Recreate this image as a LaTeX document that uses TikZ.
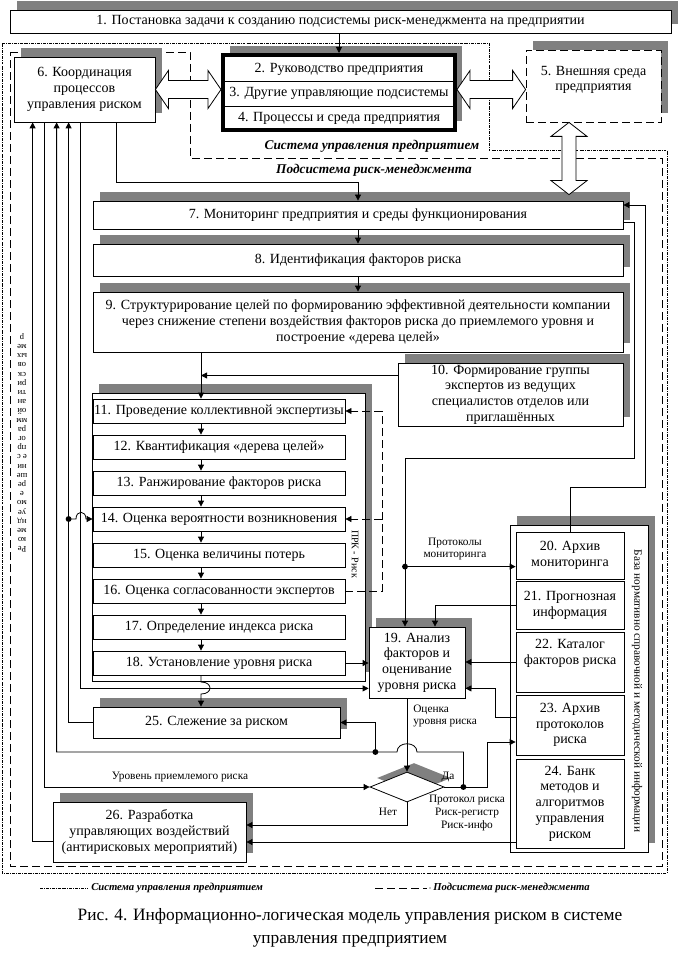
\documentclass[tikz,border=0pt]{standalone}
\usepackage{fontspec}
\setmainfont{Liberation Serif}
\usetikzlibrary{positioning, arrows.meta, shapes.geometric, shadows, calc}
\definecolor{shadowgray}{RGB}{128,128,128}
% hollow double arrow between two tips on one row
\newcommand{\harrow}[2]{\draw[hollow] (#1) -- ++(13,-19) -- ++(0,10) -- ($(#2)+(-13,-9)$) -- ++(0,-10) -- (#2) -- ++(-13,19) -- ++(0,-10) -- ($(#1)+(13,9)$) -- ++(0,10) -- cycle;}

\begin{document}
\begin{tikzpicture}[x=0.75pt, y=-0.75pt, font=\fontsize{10.5}{11.8}\selectfont,
    blk/.style={draw, fill=white, line width=0.6pt, align=center, inner sep=1pt},
    sz/.style 2 args={minimum width=#1*0.75pt, minimum height=#2*0.75pt},
    shd/.style={drop shadow={shadow xshift=5.25pt, shadow yshift=6.75pt, opacity=1, fill=shadowgray}},
    arr/.style={line width=0.6pt, -{Triangle[length=4.5pt, width=4.5pt]}},
    hollow/.style={draw, fill=white, line width=0.6pt},
    sysln/.style={line width=0.6pt, dash pattern=on 2.2pt off 0.8pt on 0.6pt off 0.8pt},
    subln/.style={line width=0.6pt, dash pattern=on 6pt off 3pt},
    lbl/.style={font=\fontsize{8.5}{9.5}\selectfont, align=center, inner sep=0pt},
    ttl/.style={font=\fontsize{10}{12}\selectfont\bfseries\itshape, inner sep=0pt}]
    \useasboundingbox (0,0) rectangle (679,966);

    % system and subsystem borders
    \draw[sysln] (2,43) -- (489,43) -- (489,150) -- (667,150) -- (667,873) -- (2,873) -- cycle;
    \draw[subln] (10,52) -- (190,52) -- (190,158) -- (662,158) -- (662,866) -- (10,866) -- cycle;

    % containers
    \node[blk, shd, sz={273}{288}] (cnt) at (228.5,537) {};
    \node[blk, shd, sz={138}{327}] (rc) at (579,688.5) {};

    % blocks
    \node[blk, shd, sz={661}{23}] (b1) at (340.5,21.5) {1. Постановка задачи к созданию подсистемы риск-менеджмента на предприятии};
    \node[blk, shd, sz={141}{65}] (b6) at (84.5,89.5) {6. Координация\\процессов\\управления риском};
    \node[blk, shd, sz={232}{75}, line width=3pt] (grp) at (339,92.5) {};
    \draw[line width=0.6pt] (grp.west |- 0,81) -- (grp.east |- 0,81);
    \draw[line width=0.6pt] (grp.west |- 0,106) -- (grp.east |- 0,106);
    \node (g2) at (339,69) {2. Руководство предприятия};
    \node (g3) at (339,93.5) {3. Другие управляющие подсистемы};
    \node (g4) at (339,118) {4. Процессы и среда предприятия};
    \node[blk, shd, subln, sz={135}{72}] (b5) at (593.5,86) {};
    \node[align=center] (t5) at (593.5,80) {5. Внешняя среда\\предприятия};
    \node[blk, shd, sz={530}{28}] (b7) at (358,215) {7. Мониторинг предприятия и среды функционирования};
    \node[blk, shd, sz={530}{32}] (b8) at (358,260) {8. Идентификация факторов риска};
    \node[blk, shd, sz={530}{60}] (b9) at (358,322) {9. Структурирование целей по формированию эффективной деятельности компании\\через снижение степени воздействия факторов риска до приемлемого уровня и\\построение «дерева целей»};
    \node[blk, shd, sz={225}{63}] (b10) at (510.5,394.5) {10. Формирование группы\\экспертов из ведущих\\специалистов отделов или\\приглашённых};
    \foreach \n/\t [count=\k from 0] in {11/Проведение коллективной экспертизы, 12/Квантификация «дерева целей», 13/Ранжирование факторов риска, 14/Оценка вероятности возникновения, 15/Оценка величины потерь, 16/Оценка согласованности экспертов, 17/Определение индекса риска, 18/Установление уровня риска}
        \node[blk, sz={252}{24}] (b\n) at (219,411+36*\k) {\n. \t};
    \node[blk, shd, sz={96}{71}] (b19) at (417,662.5) {19. Анализ\\факторов и\\оценивание\\уровня риска};
    \node[blk, sz={108}{47}] (b20) at (570,555.5) {20. Архив\\мониторинга};
    \node[blk, sz={108}{48}] (b21) at (570,605) {21. Прогнозная\\информация};
    \node[blk, sz={108}{60}] (b22) at (570,662) {};
    \node[align=center] (t22) at (570,653) {22. Каталог\\факторов риска};
    \node[blk, sz={108}{60}] (b23) at (570,725) {23. Архив\\протоколов\\риска};
    \node[blk, sz={108}{89}] (b24) at (570,803.5) {24. Банк\\методов и\\алгоритмов\\управления\\риском};
    \node[blk, shd, sz={247}{31}] (b25) at (216.5,722.5) {25. Слежение за риском};
    \node[blk, shd, sz={193}{60}] (b26) at (149.5,832) {26. Разработка\\управляющих воздействий\\(антирисковых мероприятий)};
    \node[draw, diamond, fill=white, shd, line width=0.6pt, sz={74}{30}, inner sep=0pt] (dia) at (407,787) {};

    % hollow arrows
    \harrow{b6.east}{b6.east -| grp.west}
    \harrow{grp.east |- b6.east}{b5.west |- b6.east}
    \coordinate (v5) at ($(b5.south)+(-24.5,0)$);
    \coordinate (v7) at ($(v5 |- b7.north)+(0,-6)$);
    \draw[hollow] (v5) -- ++(18,14) -- ++(-11,0) -- ($(v7)+(7,-14)$) -- ++(11,0) -- (v7) -- ++(-18,-14) -- ++(11,0) -- ($(v5)+(-7,14)$) -- ++(-11,0) -- cycle;

    % lines under block 6
    \foreach \n/\dx in {a/19,b/31,c/43,d/55,e/67,f/103}
        \coordinate (s\n) at ($(b6.south west)+(\dx,0)$);

    \draw[arr] (grp.north |- b1.south) -- (grp.north);
    \draw[arr] (sf) |- ($(b7.north)+(0,-18)$) -- (b7.north);
    \draw[arr] (b7) -- (b8);
    \draw[arr] (b8) -- (b9);
    \coordinate (c9) at ($(b9.south)+(-157,0)$);
    \draw[arr] (c9) -- (c9 |- b11.north);
    \coordinate (c10) at ($(b10.west)+(0,-19)$);
    \draw[arr] (c10) -- (c10 -| c9);
    \foreach \i [evaluate=\i as \j using {int(\i+1)}] in {11,...,17}
        \draw[arr] ($(b\i.south)+(-18,0)$) -- ($(b\j.north)+(-18,0)$);

    % expert loop
    \coordinate (pk) at ($(b16.east)+(37,0)$);
    \draw[subln] (b16.east) -- (pk) -- (pk |- b11.east);
    \draw[subln, arr] (pk |- b11.east) -- (b11.east);
    \draw[subln, arr] (pk |- b14.east) -- (b14.east);

    \draw[arr] (b18.east) -- (b18.east -| b19.west);
    \coordinate (c18) at ($(b18.south)+(-18,0)$);
    \draw[arr] (c18) -- (201,682) .. controls (213,682) and (213,694) .. (201,694) -- (c18 |- b25.north);
    \draw[arr] (se) |- ($(b19.south west)+(0,-10)$);
    \draw[arr] (b25.west) -| (sd);
    \coordinate (c14) at (sd |- b14.west);
    \fill (c14) circle (2.2pt);
    \draw[arr] (c14) -- (76,519) .. controls (76,510) and (86,510) .. (86,519) -- (b14.west);
    \draw[arr] ($(b26.west)+(0,9)$) -| (sa);
    \draw[arr] (sb) |- (dia.west);
    \draw[arr] (dia.north |- b19.south) -- (dia.north);

    % decision outputs
    \coordinate (dy) at ($(dia.east)+(19,0)$);
    \coordinate (d25) at ($(dy)+(-88,-35)$);
    \draw[arr] (dia.east) -- ++(43,0) |- ($(b23.west)+(0,17)$);
    \draw[arr] (dy) -- ++(0,-35) -- (417,752) .. controls (417,741) and (397,741) .. (397,752) -- (sc |- d25) -- (sc);
    \fill (dy) circle (2.2pt);
    \fill (d25) circle (2.2pt);
    \draw[arr] (d25) |- (b25.east);
    \draw[arr] (dia.south) |- ($(b26.east)+(0,-7)$);
    \coordinate (c24) at ($(b24.west)+(0,38.5)$);
    \draw[arr] (c24) -- (c24 -| b26.east);

    % information base
    \draw[arr] ($(b23.west)+(0,-8)$) -- ++(-20,0) |- ($(b19.south east)+(0,-10)$);
    \draw[arr] (b22.west) -- (b22.west -| b19.east);
    \draw[arr] (b21.west) -| ($(b19.north)+(18,0)$);
    \coordinate (pm) at ($(b19.north)+(-12,-60)$);
    \draw[arr] ($(b7.east)+(0,7)$) -- ++(11,0) |- ($(b19.north)+(-12,-168)$) -- ($(b19.north)+(-12,0)$);
    \fill (pm) circle (2.2pt);
    \draw[arr] (pm) -- (pm -| b20.west);
    \draw[arr] (b20.north) -- ++(0,-44) -| ($(b7.east)+(22,-10)$) -- ($(b7.east)+(0,-10)$);

    % labels
    \node[ttl] (lsys) at (372,146) {Система управления предприятием};
    \node[ttl] (lsub) at (374,170) {Подсистема риск-менеджмента};
    \node[lbl] (lpm) at (455,549) {Протоколы\\мониторинга};
    \node[lbl, align=left, anchor=west] (lor) at (413,716) {Оценка\\уровня риска};
    \node[lbl] (lur) at (180,777) {Уровень приемлемого риска};
    \node[lbl] (lyes) at (448,777) {Да};
    \node[lbl] (lno) at (388,812) {Нет};
    \node[lbl] (lpr) at (467,813) {Протокол риска\\Риск-регистр\\Риск-инфо};
    \node[rotate=-90, font=\fontsize{7.5}{8}\selectfont, inner sep=0pt] (lprk) at (355,554) {ПРК - Риск};
    \node[rotate=-90, font=\fontsize{8.5}{9}\selectfont, inner sep=0pt] (lbz) at (637,691) {База нормативно справочной и методической информации};
    \node[rotate=180, font=\fontsize{6.5}{6.9}\selectfont, align=center, inner sep=0pt] (lrec) at (22,443) {Ре\\ко\\ме\\нд\\уе\\мо\\е\\ре\\ше\\ни\\е с\\пр\\ог\\ра\\мм\\ой\\ан\\ти\\ри\\ск\\ов\\ых\\ме\\р};

    % legend and caption
    \draw[sysln] (40,888) -- (88,888);
    \node[ttl, font=\fontsize{8}{10}\selectfont\bfseries\itshape, anchor=west] (lg1) at (91,888) {Система управления предприятием};
    \draw[subln] (375,888) -- (427,888);
    \fill (430,888) circle (0.5pt);
    \node[ttl, font=\fontsize{8}{10}\selectfont\bfseries\itshape, anchor=west] (lg2) at (433,888) {Подсистема риск-менеджмента};
    \node[font=\fontsize{13}{17}\selectfont, align=center] (cap) at (350,928) {Рис. 4. Информационно-логическая модель управления риском в системе\\управления предприятием};
\end{tikzpicture}
\end{document}
